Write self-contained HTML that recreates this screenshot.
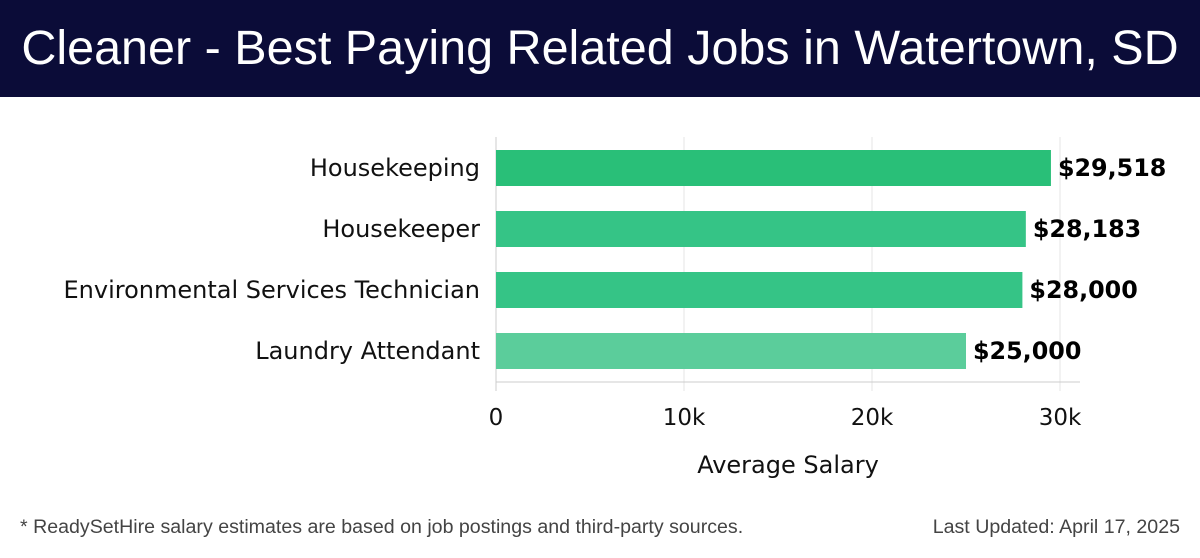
<!DOCTYPE html>
<html><head><meta charset="utf-8"><style>
body{margin:0;width:1200px;height:558px;background:#fff;overflow:hidden;font-family:"DejaVu Sans","Liberation Sans",sans-serif}
#title{position:absolute;left:0;top:0;width:1200px;height:97px;background:#0b0c38;color:#fff;font-size:48.5px;line-height:97px;text-align:center;font-family:"Liberation Sans",sans-serif;white-space:nowrap}
.foot{position:absolute;top:516px;font-size:19.6px;color:#444;font-family:"Liberation Sans",sans-serif;white-space:nowrap}
</style></head><body>
<div id="title">Cleaner - Best Paying Related Jobs in Watertown, SD</div>
<svg id="chart" width="1200" height="558" style="position:absolute;left:0;top:0"></svg>
<div class="foot" style="left:20px">* ReadySetHire salary estimates are based on job postings and third-party sources.</div>
<div class="foot" style="right:20px">Last Updated: April 17, 2025</div>
<script>
const categories=["Housekeeping","Housekeeper","Environmental Services Technician","Laundry Attendant"];
const values=[29518,28183,28000,25000];
const valueLabels=["$29,518","$28,183","$28,000","$25,000"];
const ticks=[0,10000,20000,30000];
const tickLabels=["0","10k","20k","30k"];
const colors=["#29bf78","#35c486","#35c486","#5bcd9b"];
const NS="http://www.w3.org/2000/svg";
const svg=document.getElementById('chart');
const x=v=>496+v*0.0188;
const yTop=i=>150+i*61;
function mk(t,a){const e=document.createElementNS(NS,t);for(const k in a)e.setAttribute(k,a[k]);svg.appendChild(e);return e;}
ticks.forEach((t,i)=>{
  const g=mk('line',{x1:x(t),x2:x(t),y1:137,y2:391,stroke:i==0?'#ccc':'#e4e4e4','stroke-width':1});
  
  
  const tl=mk('text',{x:x(t),y:425,'text-anchor':'middle','font-size':23,fill:'#111'});
  tl.textContent=tickLabels[i];
  
  
});
const ax=mk('line',{x1:496,x2:1080,y1:382,y2:382,stroke:'#ccc'});


categories.forEach((c,i)=>{
  const r=mk('rect',{x:x(0),y:yTop(i),width:x(values[i])-x(0),height:36,fill:colors[i]});
  
  
  const l=mk('text',{x:480,y:yTop(i)+26,'text-anchor':'end','font-size':24,fill:'#111'});
  l.textContent=c;
  
  
  const v=mk('text',{x:x(values[i])+7,y:yTop(i)+26,'font-size':23.8,'font-weight':'bold',fill:'#000'});
  v.textContent=valueLabels[i];
  
  
});
const at=mk('text',{x:788,y:473,'text-anchor':'middle','font-size':24,fill:'#111'});
at.textContent="Average Salary";


</script>
</body></html>
